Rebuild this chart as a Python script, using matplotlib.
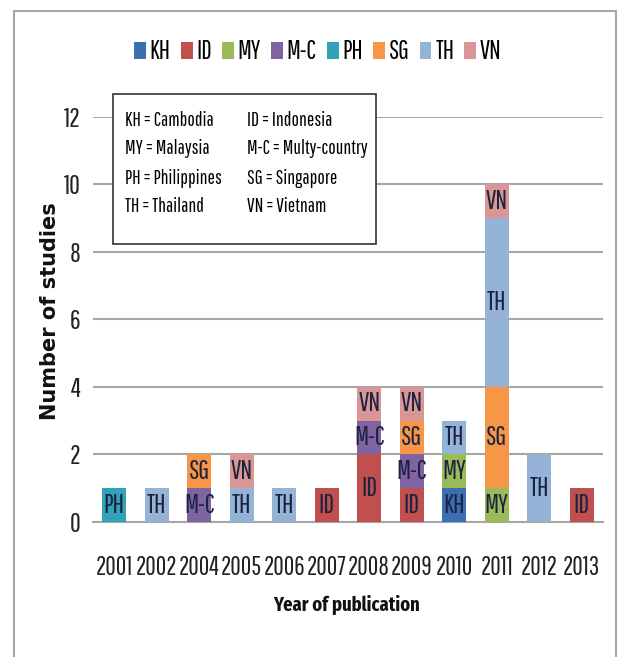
import numpy as np
import matplotlib
matplotlib.use("Agg")
import matplotlib.pyplot as plt
from matplotlib.patches import Rectangle

# data
years = ["2001", "2002", "2004", "2005", "2006", "2007",
         "2008", "2009", "2010", "2011", "2012", "2013"]
series = ["KH", "ID", "MY", "M-C", "PH", "SG", "TH", "VN"]
KH  = [0, 0, 0, 0, 0, 0, 0, 0, 1, 0, 0, 0]
ID  = [0, 0, 0, 0, 0, 1, 2, 1, 0, 0, 0, 1]
MY  = [0, 0, 0, 0, 0, 0, 0, 0, 1, 1, 0, 0]
MC  = [0, 0, 1, 0, 0, 0, 1, 1, 0, 0, 0, 0]
PH  = [1, 0, 0, 0, 0, 0, 0, 0, 0, 0, 0, 0]
SG  = [0, 0, 1, 0, 0, 0, 0, 1, 0, 3, 0, 0]
TH  = [0, 1, 0, 1, 1, 0, 0, 0, 1, 5, 2, 0]
VN  = [0, 0, 0, 1, 0, 0, 1, 1, 0, 1, 0, 0]
values = [KH, ID, MY, MC, PH, SG, TH, VN]
colors = ["#3D6FB0", "#C0504D", "#9BBB59", "#8064A2",
          "#31A2B8", "#F79646", "#95B3D7", "#D99694"]

key_left = ["KH = Cambodia", "MY = Malaysia", "PH = Philippines", "TH = Thailand"]
key_right = ["ID = Indonesia", "M-C = Multy-country", "SG = Singapore", "VN = Vietnam"]

plt.rcParams["font.family"] = ["Pathway Gothic One", "DejaVu Sans"]

fig = plt.figure(figsize=(6.21, 6.57), dpi=100)
ax = fig.add_axes([0.1498, 0.2055, 0.821, 0.6165])

x = np.arange(len(years))
bottom = np.zeros(len(years))
for name, vals, c in zip(series, values, colors):
    vals = np.array(vals, dtype=float)
    bars = ax.bar(x, vals, 0.56, bottom=bottom, color=c, label=name, zorder=3)
    labels = [name if v > 0 else "" for v in vals]
    ax.bar_label(bars, labels=labels, label_type="center", fontsize=19,
                 color="#1c2340", zorder=4)
    bottom += vals

ax.set_xlim(-0.5, len(years) - 0.5)
ax.set_ylim(0, 12)
ax.set_yticks(range(0, 13, 2))
ax.set_xticks(x)
ax.set_xticklabels(years, fontsize=18.5)
ax.tick_params(axis="y", labelsize=19, length=0, pad=9, labelcolor="#222222")
ax.tick_params(axis="x", length=0, pad=24, labelcolor="#222222")
ax.yaxis.grid(True, color="#a6a6a6", lw=1.5, zorder=0)
for s in ["top", "right", "left"]:
    ax.spines[s].set_visible(False)
ax.spines["bottom"].set_color("#a6a6a6")
ax.spines["bottom"].set_linewidth(1.5)

fig.text(347 / 621, 1 - 605 / 657, "Year of publication", fontsize=14.5,
         fontweight="bold", family="Fira Sans Extra Condensed",
         ha="center", va="center", color="#111111")
fig.text(50 / 621, 1 - 311 / 657, "Number of studies", fontsize=15,
         fontweight="bold", family="DejaVu Sans", rotation=90,
         ha="center", va="center", color="#111111")

fig.legend(loc="center", bbox_to_anchor=(0.512, 0.921), ncol=8, frameon=False,
           fontsize=18.5, handlelength=0.45, handleheight=0.6, handletextpad=0.15,
           columnspacing=0.4)

# key box
fig.patches.append(Rectangle((113 / 621, 1 - 244 / 657), 263 / 621, 150 / 657,
                             transform=fig.transFigure, facecolor="white",
                             edgecolor="#333333", lw=1.2, zorder=5))
for i, (a, b) in enumerate(zip(key_left, key_right)):
    yy = 1 - (120 + i * 29) / 657
    fig.text(125 / 621, yy, a, fontsize=14, va="center", zorder=6)
    fig.text(247 / 621, yy, b, fontsize=14, va="center", zorder=6)

# outer frame
fig.patches.append(Rectangle((14 / 621, -0.05), 602 / 621, 1.05 - 11 / 657,
                             transform=fig.transFigure, facecolor="none",
                             edgecolor="#a8a8a8", lw=1.5))

fig.savefig("out.png", dpi=100)
